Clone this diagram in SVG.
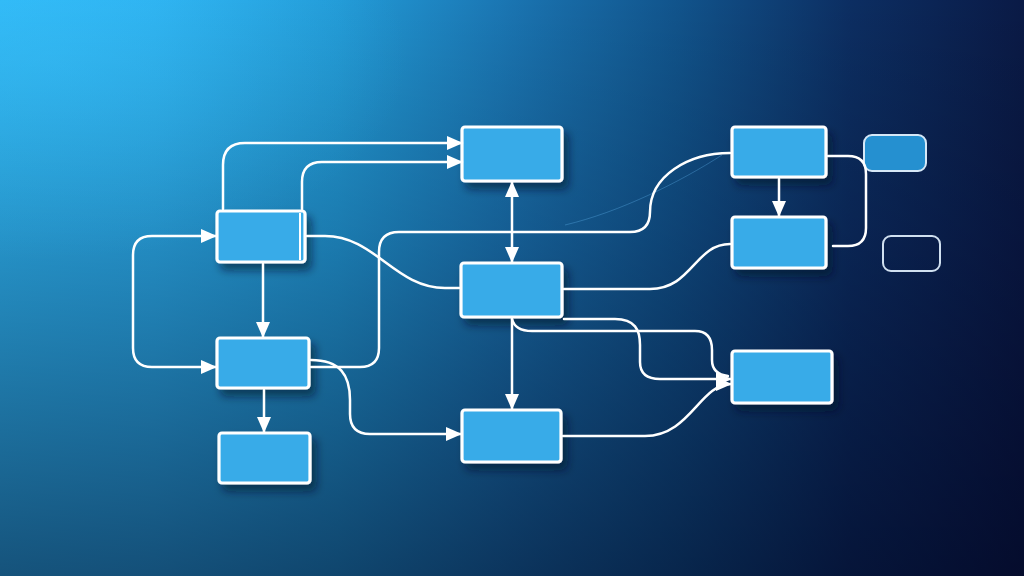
<svg xmlns="http://www.w3.org/2000/svg" width="1024" height="576" viewBox="0 0 1024 576">
<defs>
<linearGradient id="bgH" x1="0" y1="0" x2="1" y2="0">
<stop offset="0" stop-color="#2fb8f5"/>
<stop offset="0.15" stop-color="#2cb0ee"/>
<stop offset="0.33" stop-color="#229ad6"/>
<stop offset="0.5" stop-color="#1a74b1"/>
<stop offset="0.66" stop-color="#11548c"/>
<stop offset="0.83" stop-color="#0c2e62"/>
<stop offset="1" stop-color="#0a1a46"/>
</linearGradient>
<linearGradient id="bgV" x1="0" y1="0" x2="0" y2="1">
<stop offset="0" stop-color="#000" stop-opacity="0"/>
<stop offset="0.4" stop-color="#000018" stop-opacity="0.2"/>
<stop offset="1" stop-color="#000018" stop-opacity="0.55"/>
</linearGradient>
<radialGradient id="glow" cx="0.05" cy="0.1" r="0.35">
<stop offset="0" stop-color="#3cc4ff" stop-opacity="0.35"/>
<stop offset="1" stop-color="#3cc4ff" stop-opacity="0"/>
</radialGradient>
<filter id="sh" x="-20%" y="-20%" width="150%" height="160%">
<feDropShadow dx="5" dy="7" stdDeviation="4" flood-color="#020c28" flood-opacity="0.55"/>
</filter>
<marker id="arr" viewBox="0 0 16 16" refX="15" refY="8" markerWidth="16" markerHeight="16" markerUnits="userSpaceOnUse" orient="auto-start-reverse">
<path d="M0,1 L16,8 L0,15 z" fill="#ffffff"/>
</marker>
<style>
.node{fill:#39abe8;stroke:#ffffff;stroke-width:3.2;filter:url(#sh)}
.c{fill:none;stroke:#ffffff;stroke-width:2.5;stroke-linecap:round;stroke-linejoin:round}
.a{marker-end:url(#arr)}
.b{marker-start:url(#arr);marker-end:url(#arr)}
</style>
</defs>
<rect width="1024" height="576" fill="url(#bgH)"/>
<rect width="1024" height="576" fill="url(#bgV)"/>
<rect width="1024" height="576" fill="url(#glow)"/>

<g id="nodeA"><rect class="node" x="217" y="211" width="88" height="51" rx="3"/><line x1="300" y1="213" x2="300" y2="260" stroke="#ffffff" stroke-width="2"/></g>
<g id="nodeB"><rect class="node" x="217" y="338" width="92" height="50" rx="3"/></g>
<g id="nodeC"><rect class="node" x="219" y="433" width="91" height="50" rx="3"/></g>
<g id="nodeD"><rect class="node" x="462" y="127" width="100" height="54" rx="3"/></g>
<g id="nodeE"><rect class="node" x="461" y="263" width="101" height="54" rx="3"/></g>
<g id="nodeF"><rect class="node" x="462" y="410" width="99" height="52" rx="3"/></g>
<g id="nodeG"><rect class="node" x="732" y="127" width="94" height="50" rx="3"/></g>
<g id="nodeH"><rect class="node" x="732" y="217" width="94" height="51" rx="3"/></g>
<g id="nodeI"><rect x="864" y="135" width="62" height="36" rx="8" fill="#2590d0" stroke="#d6e8f7" stroke-width="2"/></g>
<g id="nodeJ"><rect x="883" y="236" width="57" height="35" rx="8" fill="none" stroke="#d0e0f0" stroke-width="2"/></g>
<g id="nodeK"><rect class="node" x="732" y="351" width="100" height="52" rx="3"/></g>

<g id="connectors">
<path d="M565,225 C620,212 680,182 722,155" fill="none" stroke="#5fb3ea" stroke-opacity="0.35" stroke-width="1"/>
<path class="c a" d="M223,209 V165 Q223,143 245,143 H462"/>
<path class="c a" d="M302,209 V182 Q302,162 322,162 H462"/>
<path class="c b" d="M216,236 H152 Q133,236 133,255 V348 Q133,367 152,367 H216"/>
<path class="c a" d="M263,264 V337"/>
<path class="c a" d="M264,390 V432"/>
<path class="c" d="M307,236 H325 C375,236 395,288 445,288 H459"/>
<path class="c" d="M311,367 H360 Q379,367 379,348 V252 Q379,232 399,232 H630 Q650,232 650,212 C650,176 688,153 730,153"/>
<path class="c a" d="M311,360 C340,360 350,375 350,400 V414 Q350,434 370,434 H461"/>
<path class="c b" d="M512,182 V262"/>
<path class="c a" d="M512,319 V409"/>
<path class="c" d="M564,289 H650 C692,289 695,244 730,244"/>
<path class="c a" d="M564,319 H615 C635,319 640,330 640,345 V362 Q640,379 660,379 H731"/>
<path class="c" d="M512,319 Q515,331 532,331 H695 Q712,331 712,350 V360 Q712,374 728,376"/>
<path class="c a" d="M563,436 H645 C690,436 700,384 731,384"/>
<path class="c a" d="M779,179 V216"/>
<path class="c" d="M828,156 H848 Q866,156 866,174 V228 Q866,246 848,246 H833"/>
</g>
</svg>
